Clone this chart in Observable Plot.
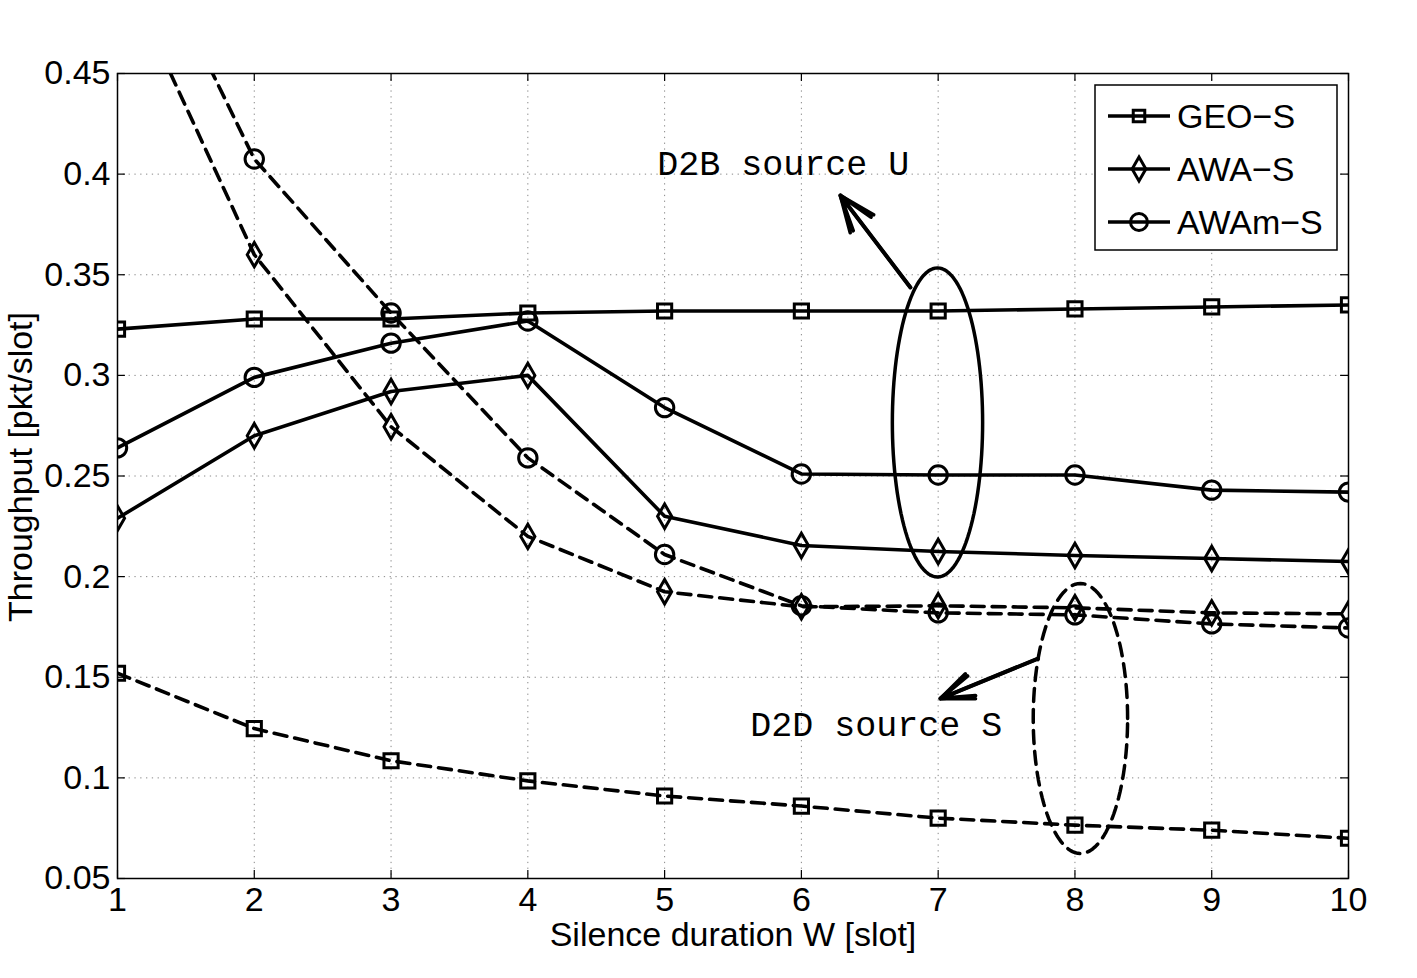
<!DOCTYPE html>
<html>
<head>
<meta charset="utf-8">
<script src="https://cdn.jsdelivr.net/npm/d3@7"></script>
<script src="https://cdn.jsdelivr.net/npm/@observablehq/plot@0.6"></script>
<style>
  html, body { margin: 0; padding: 0; background: #fff; }
  #chart svg { display: block; }
</style>
</head>
<body>
<div id="chart"></div>
<script>
// ---- data ----
const silenceW = [1, 2, 3, 4, 5, 6, 7, 8, 9, 10];
const methods = ["GEO\u2212S", "AWA\u2212S", "AWAm\u2212S"];
// D2B source U (solid)
const geoU  = [0.323, 0.328, 0.328, 0.331, 0.332, 0.332, 0.332, 0.333, 0.334, 0.335];
const awaU  = [0.229, 0.270, 0.292, 0.300, 0.230, 0.2155, 0.2125, 0.2105, 0.209, 0.2075];
const awamU = [0.264, 0.299, 0.316, 0.327, 0.284, 0.251, 0.2505, 0.2505, 0.243, 0.242];
// D2D source S (dashed)
const geoS  = [0.152, 0.1245, 0.1085, 0.0985, 0.091, 0.086, 0.080, 0.0765, 0.074, 0.070];
const awaS  = [0.507, 0.360, 0.2745, 0.220, 0.1925, 0.185, 0.1855, 0.1845, 0.182, 0.1815];
const awamS = [0.547, 0.4075, 0.331, 0.259, 0.211, 0.1855, 0.182, 0.181, 0.1765, 0.1745];
const yTicks = [0.05, 0.1, 0.15, 0.2, 0.25, 0.3, 0.35, 0.4, 0.45];
const xTicks = silenceW;
const xLabel = "Silence duration W [slot]";
const yLabel = "Throughput [pkt/slot]";
// annotations (data units)
const ellipseU = {cx: 6.995, cy: 0.2766, rx: 0.33, ry: 0.0768};
const ellipseS = {cx: 8.04, cy: 0.1295, rx: 0.345, ry: 0.0671};
const arrowsData = [
  {x1: 6.797, y1: 0.3437, x2: 6.285, y2: 0.3894},
  {x1: 7.73, y1: 0.1593, x2: 7.016, y2: 0.1394}
];
const notes = [
  {x: 5.868, y: 0.4053, text: "D2B source U"},
  {x: 6.548, y: 0.1265, text: "D2D source S"}
];

// ---- build table ----
const series = [
  {method: methods[0], link: "U", values: geoU},
  {method: methods[1], link: "U", values: awaU},
  {method: methods[2], link: "U", values: awamU},
  {method: methods[0], link: "S", values: geoS},
  {method: methods[1], link: "S", values: awaS},
  {method: methods[2], link: "S", values: awamS}
];
const rows = series.flatMap(s => s.values.map((v, i) => ({W: silenceW[i], value: v, method: s.method, link: s.link, key: s.method + s.link})));

function ellipsePts(e) {
  const n = 120;
  return d3.range(n + 1).map(i => {
    const t = (i / n) * 2 * Math.PI;
    return {x: e.cx + e.rx * Math.cos(t), y: e.cy + e.ry * Math.sin(t)};
  });
}

const symbols = {[methods[0]]: ["square", 8], [methods[1]]: ["diamond", 7.4], [methods[2]]: ["circle", 9.2]};
const FONT = "'Liberation Sans', Arial, Helvetica, sans-serif";
const tickLenY = 0.004;   // ~8px in y units
const tickLenX = 0.058;   // ~8px in x units

const dotMarks = methods.map(m => Plot.dot(rows.filter(d => d.method === m), {
  x: "W", y: "value", symbol: symbols[m][0], r: symbols[m][1],
  stroke: "black", strokeWidth: 3, fill: "none", clip: true
}));

const chart = Plot.plot({
  width: 1417,
  height: 978,
  marginLeft: 117,
  marginRight: 69,
  marginTop: 73,
  marginBottom: 100,
  style: {fontFamily: FONT, fontSize: "34px", color: "black", background: "white"},
  x: {domain: [1, 10]},
  y: {domain: [0.05, 0.45]},
  marks: [
    // grid
    Plot.ruleX(xTicks.slice(1, -1), {x: d => d, stroke: "#888", strokeWidth: 1, strokeDasharray: "1.3,4.5", strokeOpacity: 1}),
    Plot.ruleY(yTicks.slice(1, -1), {y: d => d, stroke: "#888", strokeWidth: 1, strokeDasharray: "1.3,4.5", strokeOpacity: 1}),
    // inward ticks
    Plot.ruleX(xTicks, {x: d => d, y1: 0.05, y2: 0.05 + tickLenY, stroke: "black", strokeWidth: 1.2}),
    Plot.ruleX(xTicks, {x: d => d, y1: 0.45, y2: 0.45 - tickLenY, stroke: "black", strokeWidth: 1.2}),
    Plot.ruleY(yTicks, {y: d => d, x1: 1, x2: 1 + tickLenX, stroke: "black", strokeWidth: 1.2}),
    Plot.ruleY(yTicks, {y: d => d, x1: 10, x2: 10 - tickLenX, stroke: "black", strokeWidth: 1.2}),
    // axes
    Plot.axisX(xTicks, {anchor: "bottom", tickSize: 0, tickPadding: 8, label: null, fontSize: 34, tickFormat: d => String(d)}),
    Plot.axisY(yTicks, {anchor: "left", tickSize: 0, tickPadding: 7, label: null, fontSize: 34, tickFormat: d => String(d)}),
    // series lines
    Plot.line(rows.filter(d => d.link === "U"), {x: "W", y: "value", z: "key", stroke: "black", strokeWidth: 3.6, clip: true}),
    Plot.line(rows.filter(d => d.link === "S"), {x: "W", y: "value", z: "key", stroke: "black", strokeWidth: 3.6, strokeDasharray: "13,8", clip: true}),
    ...dotMarks,
    // annotations
    Plot.line(ellipsePts(ellipseU), {x: "x", y: "y", stroke: "black", strokeWidth: 3.5}),
    Plot.line(ellipsePts(ellipseS), {x: "x", y: "y", stroke: "black", strokeWidth: 3.5, strokeDasharray: "13,8"}),
    Plot.arrow(arrowsData, {x1: "x1", y1: "y1", x2: "x2", y2: "y2", stroke: "black", strokeWidth: 3.5, headLength: 24, headAngle: 45}),
    Plot.arrow(arrowsData, {x1: "x1", y1: "y1", x2: "x2", y2: "y2", stroke: "black", strokeWidth: 4, headLength: 14, headAngle: 35}),
    Plot.text(notes, {x: "x", y: "y", text: "text", fontFamily: "'Liberation Mono', 'Courier New', monospace", fontSize: 35, fill: "black", textAnchor: "middle"}),
    // axis titles
    Plot.text([xLabel], {frameAnchor: "bottom", dy: 67, text: d => d, fontSize: 34, fill: "black", textAnchor: "middle"}),
    Plot.text([yLabel], {frameAnchor: "left", dx: -96, dy: -9, rotate: -90, text: d => d, fontSize: 34, fill: "black", textAnchor: "middle"}),
    Plot.frame({stroke: "black", strokeWidth: 1.5})
  ]
});

// ---- legend ----
const svg = d3.select(chart);
const lg = svg.append("g").attr("font-family", FONT).attr("font-size", 34).attr("text-anchor", "start");
lg.append("rect").attr("x", 1095).attr("y", 85).attr("width", 242).attr("height", 165)
  .attr("fill", "white").attr("stroke", "black").attr("stroke-width", 1.5);
const legendY = [116, 169, 222];
const legendR = {[methods[0]]: 6.5, [methods[1]]: 7.2, [methods[2]]: 8.5};
methods.forEach((m, i) => {
  const yy = legendY[i];
  lg.append("line").attr("x1", 1108).attr("x2", 1170).attr("y1", yy).attr("y2", yy)
    .attr("stroke", "black").attr("stroke-width", 3.5);
  const sym = symbols[m][0];
  const r = legendR[m];
  const symType = sym === "square" ? d3.symbolSquare : sym === "diamond" ? d3.symbolDiamond : d3.symbolCircle;
  lg.append("path").attr("d", d3.symbol(symType, Math.PI * r * r)())
    .attr("transform", `translate(1139,${yy})`)
    .attr("fill", "none").attr("stroke", "black").attr("stroke-width", 3);
  lg.append("text").attr("x", 1177).attr("y", yy).attr("dy", "0.35em").attr("fill", "black")
    .attr("text-anchor", "start").text(m);
});

document.getElementById("chart").appendChild(chart);
</script>
</body>
</html>
